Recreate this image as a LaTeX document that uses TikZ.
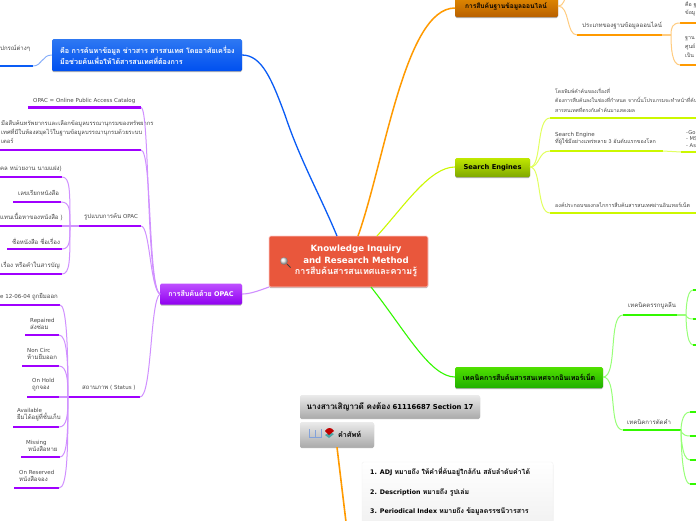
\documentclass[tikz,border=0pt]{standalone}
\usepackage{fontspec}
\setmainfont{DejaVu Sans}
\newfontfamily\thfont[Script=Thai,Scale=1.1]{Loma}
\newcommand{\T}[1]{{\thfont #1}}
\usetikzlibrary{shadows,calc}
\definecolor{cblue}{HTML}{0A5CF5}
\definecolor{cpurple}{HTML}{A000FF}
\definecolor{lpurple}{HTML}{D090FF}
\definecolor{corange}{HTML}{FF9A00}
\definecolor{lorange}{HTML}{FFCC80}
\definecolor{cyellow}{HTML}{CCF800}
\definecolor{lyellow}{HTML}{E2FF60}
\definecolor{cgreen}{HTML}{33F800}
\definecolor{lgreen}{HTML}{98FF78}
\definecolor{blueT}{HTML}{2E78F2}
\definecolor{blueB}{HTML}{0050F0}
\definecolor{purpT}{HTML}{BE50FF}
\definecolor{purpB}{HTML}{9000F0}
\definecolor{orT}{HTML}{E89000}
\definecolor{orB}{HTML}{B86000}
\definecolor{yeT}{HTML}{C0E800}
\definecolor{yeB}{HTML}{7FA800}
\definecolor{grT}{HTML}{50E000}
\definecolor{grB}{HTML}{20B000}
\definecolor{grayB}{HTML}{ABABAB}
\definecolor{redbox}{HTML}{E9573C}
\tikzset{
  lab/.style={anchor=west,inner sep=0pt,align=left,text=black!72,font=\fontsize{5.5}{8.6}\selectfont},
  boxb/.style={rounded corners=1.5pt,draw=none,inner sep=0pt,align=center,drop shadow={shadow xshift=0pt,shadow yshift=-1pt,opacity=.3,fill=black}},
  whitetext/.style={text=white,font=\fontsize{6.5}{11}\selectfont\bfseries},
  blacktext/.style={text=black,font=\fontsize{6.5}{11}\selectfont\bfseries},
  ulpurple/.style={draw=cpurple,line width=2.3pt},
  ulorange/.style={draw=corange,line width=2.3pt},
  ulyellow/.style={draw=cyellow,line width=2.3pt},
  ulgreen/.style={draw=cgreen,line width=2.3pt},
  ulblue/.style={draw=cblue,line width=2.3pt},
  cp/.style={draw=lpurple,line width=1pt},
  co/.style={draw=lorange,line width=1pt},
  cy/.style={draw=lyellow,line width=1pt},
  cg/.style={draw=lgreen,line width=1pt},
}
% name, x-left, x-right, y, underline style
\newcommand{\ul}[5]{\coordinate (#1-l) at (#2,#4);\coordinate (#1-r) at (#3,#4);\draw[#5] (#1-l) -- (#1-r);}
\begin{document}
\begin{tikzpicture}[x=1pt,y=-1pt]
\useasboundingbox (0,0) rectangle (696,520);
\fill[white] (0,0) rectangle (696,520);

% ---------- main boxes
\node[boxb,draw=red!20,line width=.6pt,fill=redbox,minimum width=159pt,minimum height=51pt,whitetext] (central) at (348.5,261.5) {};
\node[whitetext,font=\fontsize{8.6}{11.5}\selectfont\bfseries,align=center,inner sep=0pt] (centraltext) at (356,261) {Knowledge Inquiry\\and Research Method\\\T{\fontsize{8.1}{11.5}\selectfont การสืบค้นสารสนเทศและความรู้}};
\shade[ball color=white!92!black] (284,261) circle (3.8pt);
\coordinate (handleA) at (287,264);\coordinate (handleB) at (290.5,267.5);
\draw[black!75,line width=1pt] (handleA) -- (handleB);

\node[boxb,top color=blueT,bottom color=blueB,minimum width=190pt,minimum height=32pt] (blue) at (147,55) {};
\node[whitetext,anchor=west,align=left,inner sep=0pt] (bluetext) at (60,55) {\T{คือ การค้นหาข้อมูล ข่าวสาร สารสนเทศ โดยอาศัยเครื่อง}\\\T{มือช่วยค้นเพื่อให้ได้สารสนเทศที่ต้องการ}};

\node[boxb,top color=purpT,bottom color=purpB,minimum width=82pt,minimum height=21pt,whitetext] (opac) at (201,294) {\T{การสืบค้นด้วย} OPAC};

\node[boxb,top color=orT,bottom color=orB,minimum width=103pt,minimum height=23pt] (online) at (506.5,5.5) {};
\node[blacktext,inner sep=0pt,font=\fontsize{6}{11}\selectfont\bfseries] (onlinetext) at (506,6.5) {\T{การสืบค้นฐานข้อมูลออนไลน์}};

\node[boxb,top color=yeT,bottom color=yeB,minimum width=75pt,minimum height=19pt,blacktext,font=\fontsize{6.7}{11}\selectfont\bfseries] (search) at (492.5,167.5) {Search Engines};

\node[boxb,top color=grT,bottom color=grB,minimum width=148pt,minimum height=21pt,blacktext,font=\fontsize{6.4}{11}\selectfont\bfseries] (tech) at (529,377.5) {\T{เทคนิคการสืบค้นสารสนเทศจากอินเทอร์เน็ต}};

\node[boxb,top color=white!92!black,bottom color=grayB,minimum width=180pt,minimum height=23pt,blacktext,font=\fontsize{6.8}{11}\selectfont\bfseries] (name) at (390,406.5) {\T{\fontsize{7.4}{11}\selectfont นางสาวเสิญาวดี คงต้อง} 61116687 Section 17};

\node[boxb,top color=white!92!black,bottom color=grayB,minimum width=74pt,minimum height=25pt] (vocab) at (337,434.5) {};
\node[blacktext,inner sep=0pt,anchor=west] (vocabtext) at (338,434) {\T{คำศัพท์}};
% book icons
\draw[cyan!45!blue!50,line width=.7pt] (309,429) -- (309,437) -- (321,437) -- (321,429);
\draw[cyan!45!blue!50,line width=.7pt] (315,430) -- (315,437);
\fill[teal!70] (325,435) -- (330,432) -- (334,434) -- (329,438) -- cycle;
\fill[red!75!black] (325,431) .. controls (327,427) and (332,427) .. (334,431) -- (329,435) -- cycle;

\node[boxb,fill=white,top color=white,bottom color=black!6,draw=black!5,minimum width=191pt,minimum height=70pt] (terms) at (457.5,497) {};
\node[blacktext,anchor=west,inner sep=0pt,font=\fontsize{6.3}{11}\selectfont\bfseries] (t1) at (370,472) {1. ADJ \T{หมายถึง ให้คำที่ค้นอยู่ใกล้กัน สลับลำดับคำได้}};
\node[blacktext,anchor=west,inner sep=0pt,font=\fontsize{6.3}{11}\selectfont\bfseries] (t2) at (370,492) {2. Description \T{หมายถึง รูปเล่ม}};
\node[blacktext,anchor=west,inner sep=0pt,font=\fontsize{6.3}{11}\selectfont\bfseries] (t3) at (370,511) {3. Periodical Index \T{หมายถึง ข้อมูลดรรชนีวารสาร}};

\coordinate (vocabEnd) at (346,522);
\draw[corange,line width=1.6pt] (vocab.south) -- (vocabEnd);

% ---------- central connectors
\coordinate (cBlue) at (337,236);\coordinate (cOr) at (358,236);\coordinate (cYe) at (377,236);
\coordinate (cGr) at (371,287);\coordinate (cPu) at (269,287);
\coordinate (bR) at (242,55);\coordinate (oR) at (242,294);
\coordinate (onL) at (455,8);\coordinate (seL) at (455,167);\coordinate (teL) at (455,377);
\draw[cblue,line width=1.3pt] (bR) .. controls (262,55) and (272,80) .. (285,115) .. controls (300,160) and (320,195) .. (cBlue);
\draw[corange,line width=1.5pt] (cOr) .. controls (385,160) and (405,8) .. (onL);
\draw[cyellow,line width=1.1pt] (cYe) .. controls (405,205) and (430,167) .. (seL);
\draw[cgreen,line width=1.1pt] (cGr) .. controls (405,330) and (430,377) .. (teL);
\draw[lpurple,line width=1.1pt] (cPu) .. controls (258,291) and (250,294) .. (oR);

% ---------- blue side
\ul{b1}{-5}{33}{66}{ulblue}
\node[lab] (b1t) at (0,48) {\T{ปกรณ์ต่างๆ}};
\draw[cblue!50,line width=.9pt] (b1-r) .. controls (42,66) and (42,55) .. (blue.west);

% ---------- OPAC side
\coordinate (opL) at (160,294);
\ul{o1}{28}{141}{107.5}{ulpurple}
\node[lab] (o1t) at (33,101) {OPAC = Online Public Access Catalog};
\ul{o2}{-5}{141}{150}{ulpurple}
\node[lab,font=\fontsize{5.3}{9}\selectfont] (o2t) at (1,132) {\T{มือสืบค้นทรัพยากรและเลือกข้อมูลบรรณานุกรมของทรัพยากร}\\\T{เทศที่มีในห้องสมุดไว้ในฐานข้อมูลบรรณานุกรมด้วยระบบ}\\\T{เตอร์}};
\ul{o3}{79}{141}{226}{ulpurple}
\node[lab] (o3t) at (84,217) {\T{รูปแบบการค้น} OPAC};
\ul{o4}{78}{140}{397}{ulpurple}
\node[lab] (o4t) at (82,388) {\T{สถานภาพ} ( Status )};
\draw[cp] (opL) .. controls (146,290) and (150,107.5) .. (o1-r);
\draw[cp] (opL) .. controls (148,288) and (152,150) .. (o2-r);
\draw[cp] (opL) .. controls (150,288) and (150,226) .. (o3-r);
\draw[cp] (opL) .. controls (150,300) and (152,397) .. (o4-r);

% format children
\ul{f1}{-5}{62}{177}{ulpurple}
\node[lab] (f1t) at (0,169) {\T{คล หน่วยงาน นามแฝง)}};
\ul{f2}{13}{61}{202}{ulpurple}
\node[lab] (f2t) at (18,193) {\T{เลขเรียกหนังสือ}};
\ul{f3}{-5}{62}{226}{ulpurple}
\node[lab] (f3t) at (0,217) {\T{แทนเนื้อหาของหนังสือ )}};
\ul{f4}{7}{62}{249}{ulpurple}
\node[lab] (f4t) at (12,241) {\T{ชื่อหนังสือ ชื่อเรื่อง}};
\ul{f5}{-5}{62}{274}{ulpurple}
\node[lab] (f5t) at (1,265) {\T{เรื่อง หรือคำในสารบัญ}};
\coordinate (fj) at (70,226);
\draw[cp,line width=1.4pt] (o3-l) -- (f3-r);
\draw[cp] (fj) .. controls (70,190) and (70,177) .. (f1-r);
\draw[cp] (fj) .. controls (70,210) and (70,202) .. (f2-r);
\draw[cp] (fj) .. controls (70,240) and (70,249) .. (f4-r);
\draw[cp] (fj) .. controls (70,260) and (70,274) .. (f5-r);

% status children
\ul{s1}{-5}{60}{305}{ulpurple}
\node[lab] (s1t) at (0,297) {e 12-06-04 \T{ถูกยืมออก}};
\ul{s2}{25}{59}{335}{ulpurple}
\node[lab] (s2t) at (30,324) {Repaired\\[-1.5pt]\T{ส่งซ่อม}};
\ul{s3}{22}{59}{366}{ulpurple}
\node[lab] (s3t) at (27,354) {Non Circ\\[-1.5pt]\T{ห้ามยืมออก}};
\ul{s4}{27}{59}{397}{ulpurple}
\node[lab] (s4t) at (32,385) {On Hold\\[-1.5pt]\T{ถูกจอง}};
\ul{s5}{13}{59}{427}{ulpurple}
\node[lab] (s5t) at (17,415) {Available\\[-1.5pt]\T{ยืมได้อยู่ที่ชั้นเก็บ}};
\ul{s6}{21}{60}{457}{ulpurple}
\node[lab] (s6t) at (26,446) {Missing\\[-1.5pt]\hspace{2pt}\T{หนังสือหาย}};
\ul{s7}{14}{59}{488}{ulpurple}
\node[lab] (s7t) at (19,476) {On Reserved\\[-1.5pt]\T{หนังสือจอง}};
\coordinate (sj) at (68,397);
\draw[cpurple,line width=1.3pt] (o4-l) -- (sj);
\draw[cp,line width=1.2pt] (sj) -- (s4-r);
\draw[cp] (sj) .. controls (68,340) and (66,305) .. (s1-r);
\draw[cp] (sj) .. controls (68,360) and (67,335) .. (s2-r);
\draw[cp] (sj) .. controls (68,380) and (67,366) .. (s3-r);
\draw[cp] (sj) .. controls (68,415) and (67,427) .. (s5-r);
\draw[cp] (sj) .. controls (68,435) and (67,457) .. (s6-r);
\draw[cp] (sj) .. controls (68,455) and (67,488) .. (s7-r);

% ---------- online side
\coordinate (onR) at (558,6);\coordinate (onUp) at (568,-10);
\draw[co] (onR) .. controls (564,6) and (564,0) .. (onUp);
\ul{n1}{577}{662}{35}{ulorange}
\node[lab] (n1t) at (582,26) {\T{ประเภทของฐานข้อมูลออนไลน์}};
\draw[co] (onR) .. controls (570,6) and (566,35) .. (n1-l);
\ul{n2}{680}{700}{23}{ulorange}
\node[lab,font=\fontsize{4.8}{8.6}\selectfont] (n2t) at (685,9) {\T{คือ ฐ}\\\T{ข้อมู}};
\ul{n3}{680}{700}{65}{ulorange}
\node[lab,font=\fontsize{4.8}{9.4}\selectfont] (n3t) at (685,47) {\T{ฐาน}\\\T{ศูนย์}\\\T{เป็น}};
\coordinate (nj) at (671,35);
\draw[lorange,line width=1.6pt] (n1-r) -- (nj);
\draw[co] (nj) .. controls (671,28) and (672,23) .. (n2-l);
\draw[co] (nj) .. controls (671,48) and (672,65) .. (n3-l);

% ---------- search side
\coordinate (seR) at (530,167);
\ul{e1}{550}{700}{118}{ulyellow}
\node[lab,font=\fontsize{4.65}{9.4}\selectfont] (e1t) at (555,100) {\T{โดยพิมพ์คำค้นของเรื่องที่}\\\T{ต้องการสืบค้นลงในช่องที่กำหนด จากนั้นโปรแกรมจะทำหน้าที่ค้น}\\\T{สารสนเทศที่ตรงกับคำค้นมาแสดงผล}};
\ul{e2}{550}{663}{151}{ulyellow}
\node[lab,font=\fontsize{5.5}{7}\selectfont] (e2t) at (555,138.5) {Search Engine\\\T{\fontsize{4.9}{7}\selectfont ที่ผู้ใช้มีอย่างแพร่หลาย 3 อันดับแรกของโลก}};
\ul{e3}{550}{700}{213}{ulyellow}
\node[lab,font=\fontsize{4.85}{8.6}\selectfont] (e3t) at (555,205) {\T{องค์ประกอบของกลไกการสืบค้นสารสนเทศผ่านอินเทอร์เน็ต}};
\draw[cy] (seR) .. controls (542,167) and (536,118) .. (e1-l);
\draw[cy] (seR) .. controls (540,167) and (538,151) .. (e2-l);
\draw[cy] (seR) .. controls (542,167) and (536,213) .. (e3-l);
\ul{e4}{681}{700}{152}{ulyellow}
\node[lab,font=\fontsize{5.2}{6.5}\selectfont] (e4t) at (686,139) {-Go\\- MS\\- As};
\draw[cy] (e2-r) .. controls (672,151) and (672,152) .. (e4-l);

% ---------- technique side
\coordinate (teR) at (603,377);
\ul{g1}{623}{677}{315}{ulgreen}
\node[lab] (g1t) at (628,306) {\T{เทคนิคตรรกบูลลีน}};
\ul{g2}{623}{672}{430}{ulgreen}
\node[lab] (g2t) at (627,422) {\T{เทคนิคการตัดคำ}};
\draw[cg] (teR) .. controls (618,377) and (608,315) .. (g1-l);
\draw[cg] (teR) .. controls (618,377) and (608,430) .. (g2-l);
\coordinate (gj) at (686,315);\coordinate (gj2) at (681,430);
\draw[lgreen,line width=1.6pt] (g1-r) -- (gj);
\draw[cgreen,line width=1.1pt] (g2-r) -- (gj2);
\foreach \y in {290,319,345}{
  \coordinate (gu) at (693,\y);\coordinate (gv) at (700,\y);
  \draw[cg] (gj) .. controls (686,315) and (686,\y) .. (gu);
  \draw[ulgreen] (gu) -- (gv);}
\foreach \y in {412,436,460,484}{
  \coordinate (gu) at (690,\y);\coordinate (gv) at (700,\y);
  \draw[cg] (gj2) .. controls (681,430) and (681,\y) .. (gu);
  \draw[ulgreen] (gu) -- (gv);}
\end{tikzpicture}
\end{document}
